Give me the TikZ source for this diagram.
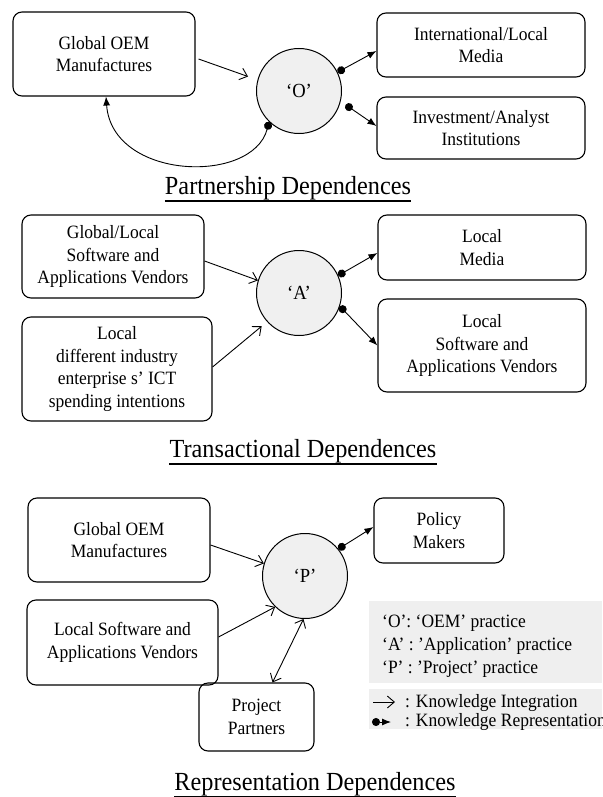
\documentclass[tikz,border=0pt]{standalone}
\usepackage{fontspec}
\setmainfont[FakeStretch=0.93]{Liberation Serif}
\usetikzlibrary{arrows.meta,calc}
\definecolor{hubgray}{HTML}{F0F0F0}
\definecolor{keygray}{HTML}{EFEFEF}
\begin{document}
\begin{tikzpicture}[x=1pt,y=-1pt,
  ibox/.style={draw, line width=1.1pt, rounded corners=9pt, align=center,
    inner sep=0pt, font=\fontsize{18.8}{22.8}\selectfont},
  hub/.style={draw, circle, fill=hubgray, line width=1pt, minimum size=85pt,
    inner sep=0pt, font=\fontsize{20}{24}\selectfont},
  ttl/.style={anchor=base, inner sep=0pt, font=\fontsize{26.1}{30}\selectfont},
  uline/.style={line width=1.8pt},
  integ/.style={line width=0.9pt, -{Straight Barb[length=7pt,width=12pt]}},
  repr/.style={line width=0.9pt, {Circle[length=8pt]}-{Latex[length=9pt,width=7pt]}},
  keytext/.style={inner sep=0pt, align=left, font=\fontsize{18.8}{23}\selectfont},
]
\clip (0,0) rectangle (602,797);

% ---------- Partnership dependences ----------
\node[ibox, minimum width=182pt, minimum height=84pt] (g1) at (104,54) {Global OEM\\Manufactures};
\node[ibox, minimum width=208pt, minimum height=64pt] (med1) at (481,45) {International/Local\\Media};
\node[ibox, minimum width=208pt, minimum height=62pt] (inv1) at (481,128) {Investment/Analyst\\Institutions};
\node[hub] (o) at (299,91) {‘O’};

\draw[integ, shorten >=10pt] ([xshift=3pt,yshift=-5pt]g1.east) -- (o.165);
\draw[repr] (o.226) .. controls (252,185) and (112,180) .. ([xshift=2pt]g1.south);
\draw[repr] (o.26) -- ([yshift=-6pt]med1.west);
\draw[repr, shorten <=6pt] (o.-14) -- ([yshift=2pt]inv1.west);

\node[ttl] (t1) at (288,194) {Partnership Dependences};
\draw[uline] ([yshift=-1pt]t1.south west) -- ([yshift=-1pt]t1.south east);

% ---------- Transactional dependences ----------
\node[ibox, minimum width=182pt, minimum height=83pt] (gl2) at (113,256.5) {Global/Local\\Software and\\Applications Vendors};
\node[ibox, minimum width=190pt, minimum height=104pt] (ld2) at (117,369) {Local\\different industry\\enterprise s’ ICT\\spending intentions};
\node[ibox, minimum width=208pt, minimum height=65pt] (lm2) at (482,247.5) {Local\\Media};
\node[ibox, minimum width=208pt, minimum height=93pt] (ls2) at (482,345.5) {Local\\Software and\\Applications Vendors};
\node[hub] (a) at (299,293) {‘A’};

\draw[integ] ([yshift=-4.5pt]gl2.east) -- (a.163);
\draw[integ, shorten >=7pt] ([yshift=2pt]ld2.east) -- (a.222);
\draw[repr] (a.24) -- ([yshift=-5.5pt]lm2.west);
\draw[repr] (a.-18) -- (ls2.west);

\node[ttl] (t2) at (303,457) {Transactional Dependences};
\draw[uline] ([yshift=-1pt]t2.south west) -- ([yshift=-1pt]t2.south east);

% ---------- Representation dependences ----------
\node[ibox, minimum width=182pt, minimum height=84pt] (g3) at (119,540) {Global OEM\\Manufactures};
\node[ibox, minimum width=191pt, minimum height=85pt] (ls3) at (122.5,642.5) {Local Software and\\Applications Vendors};
\node[ibox, minimum width=115pt, minimum height=68pt] (pp3) at (256.5,717) {Project\\Partners};
\node[ibox, minimum width=130pt, minimum height=65pt] (pm3) at (439,530.5) {Policy\\Makers};
\node[hub] (p) at (305,576) {‘P’};

\draw[integ] ([yshift=-5pt]g3.east) -- (p.163);
\draw[integ] ([yshift=5.5pt]ls3.east) -- (p.226);
\draw[integ, {Straight Barb[length=7pt,width=12pt]}-{Straight Barb[length=7pt,width=12pt]}] ([xshift=16pt]pp3.north) -- (p.-92);
\draw[repr] (p.39) -- ([yshift=3.5pt]pm3.west);

% key
\fill[keygray] (369,601) rectangle (602,683);
\fill[keygray] (369,689) rectangle (602,729);
\node[keytext, anchor=base west] (k1) at (382,627) {‘O’: ‘OEM’ practice};
\node[keytext, anchor=base west] (k2) at (382,650) {‘A’ : ’Application’ practice};
\node[keytext, anchor=base west] (k3) at (382,673) {‘P’ : ’Project’ practice};
\coordinate (ia) at (373,702);
\coordinate (ib) at (395,702);
\draw[integ] (ia) -- (ib);
\coordinate (ra) at (372,722);
\coordinate (rb) at (391,722);
\draw[repr] (ra) -- (rb);
\node[keytext, anchor=base west] (k4) at (405,707) {: Knowledge Integration};
\node[keytext, anchor=base west] (k5) at (405,726) {: Knowledge Representation};

\node[ttl] (t3) at (315,790) {Representation Dependences};
\draw[uline] ([yshift=-1pt]t3.south west) -- ([yshift=-1pt]t3.south east);
\end{tikzpicture}
\end{document}
